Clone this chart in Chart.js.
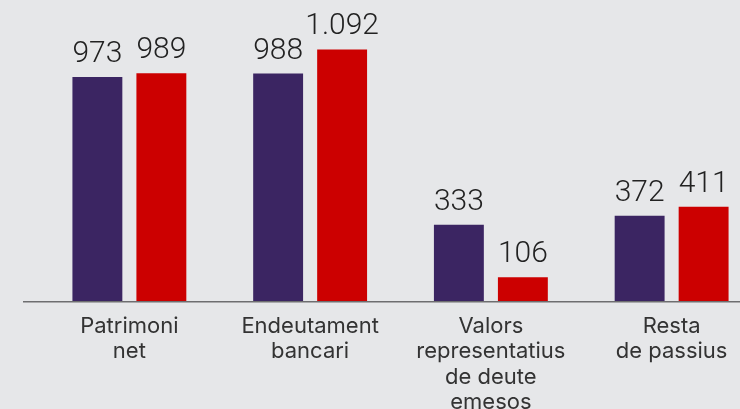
<!DOCTYPE html>
<html>
<head>
<meta charset="utf-8">
<script src="https://cdn.jsdelivr.net/npm/chart.js@4"></script>
<style>
  html, body {
    margin: 0;
    padding: 0;
    background: #e6e7e9;
    overflow: hidden;
  }
  #wrap {
    position: relative;
    width: 762px;
    height: 409px;
  }
</style>
</head>
<body>
<div id="wrap"><canvas id="balanceChart"></canvas></div>
<script>
// Balance structure (values in the chart's own units)
const categories = [
  ["Patrimoni", "net"],
  ["Endeutament", "bancari"],
  ["Valors", "representatius", "de deute", "emesos"],
  ["Resta", "de passius"],
];
const seriesA = [973, 988, 333, 372];
const seriesB = [989, 1092, 106, 411];
const labelsA = ["973", "988", "333", "372"];
const labelsB = ["989", "1.092", "106", "411"];

const PURPLE = "#3b2562";
const RED = "#cc0000";

// Draws the value above each bar
const valueLabels = {
  id: "valueLabels",
  afterDatasetsDraw(chart) {
    const ctx = chart.ctx;
    const texts = [labelsA, labelsB];
    ctx.save();
    ctx.font = "300 30px Roboto, 'Noto Sans', sans-serif";
    ctx.fillStyle = "#222222";
    ctx.textAlign = "center";
    ctx.textBaseline = "alphabetic";
    chart.data.datasets.forEach((ds, i) => {
      chart.getDatasetMeta(i).data.forEach((bar, j) => {
        ctx.fillText(texts[i][j], bar.x, bar.y - 15);
      });
    });
    ctx.restore();
  },
};

// Baseline running from the left margin to the right edge
const baseLine = {
  id: "baseLine",
  afterDatasetsDraw(chart) {
    const ctx = chart.ctx;
    const y = chart.scales.y.getPixelForValue(0);
    ctx.save();
    ctx.strokeStyle = "#6e6e70";
    ctx.lineWidth = 1.5;
    ctx.beginPath();
    ctx.moveTo(23, y);
    ctx.lineTo(chart.width, y);
    ctx.stroke();
    ctx.restore();
  },
};

const ctx = document.getElementById("balanceChart").getContext("2d");

new Chart(ctx, {
  type: "bar",
  data: {
    labels: categories,
    datasets: [
      {
        data: seriesA,
        backgroundColor: PURPLE,
        categoryPercentage: 0.708,
        barPercentage: 0.78,
      },
      {
        data: seriesB,
        backgroundColor: RED,
        categoryPercentage: 0.708,
        barPercentage: 0.78,
      },
    ],
  },
  options: {
    responsive: true,
    maintainAspectRatio: false,
    animation: false,
    layout: {
      padding: { left: 39, right: 0, top: 22, bottom: -18 },
    },
    plugins: {
      legend: { display: false },
      tooltip: { enabled: false },
    },
    scales: {
      x: {
        grid: { display: false, drawTicks: false },
        border: { display: false },
        ticks: {
          color: "#333333",
          padding: 12,
          font: { family: "Inter, 'Noto Sans', sans-serif", size: 22, lineHeight: 1.15 },
        },
      },
      y: {
        display: false,
        min: 0,
        max: 1211,
      },
    },
  },
  plugins: [valueLabels, baseLine],
});
</script>
</body>
</html>
